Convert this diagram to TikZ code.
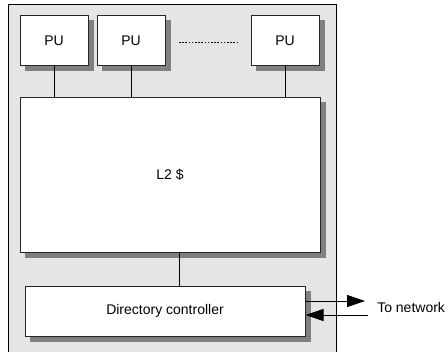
\documentclass[tikz,border=0pt]{standalone}
\usepackage{fontspec}
\setmainfont{Liberation Sans}
\usetikzlibrary{arrows.meta,backgrounds}

\tikzset{
  unit/.style={draw=black!85, line width=0.75pt, fill=white, inner sep=0pt,
    font=\fontsize{10.5}{12}\selectfont},
  shade/.style={fill=black!50},
  wire/.style={draw=black, line width=0.75pt},
  big/.style={-{Triangle[length=13.5pt, width=9pt]}, line width=0.75pt}
}

\begin{document}
\begin{tikzpicture}[x=0.75pt, y=-0.75pt]
			%%%%% START %%%%%
			\useasboundingbox (0, 0) rectangle (448, 351);
			
			\node[unit, minimum width=51pt, minimum height=37.5pt] (pu1) at (54, 40.5) {PU};
			\node[unit, minimum width=51pt, minimum height=37.5pt] (pu2) at (131, 40.5) {PU};
			\node[unit, minimum width=51pt, minimum height=37.5pt] (pun) at (285, 40.5) {PU};
			\draw[line width=0.75pt, dash pattern=on 1.2pt off 1.2pt] (179, 42) -- (237, 42);
			
			\node[unit, minimum width=225pt, minimum height=116.25pt] (l2) at (170, 174.5) {L2 \$};
			
			\node[unit, minimum width=210pt, minimum height=37.5pt] (dir) at (165, 311) {Directory controller};
			
			\begin{scope}[on background layer]
				\draw[fill=black!10, line width=0.75pt] (8, 4.7) rectangle (336.7, 353);
				\foreach \b in {pu1, pu2, pun, l2, dir}
					\fill[shade] ([shift={(3.75pt,-3.75pt)}]\b.south west) rectangle ([shift={(3.75pt,-3.75pt)}]\b.north east);
			\end{scope}
			
			\draw[wire] (pu1.south) -- (pu1.south |- l2.north);
			\draw[wire] (pu2.south) -- (pu2.south |- l2.north);
			\draw[wire] (pun.south) -- (pun.south |- l2.north);
			\draw[wire] ([xshift=6.75pt]l2.south) -- ([xshift=6.75pt]l2.south |- dir.north);
			
			\node[anchor=west, inner sep=0pt, font=\fontsize{10.5}{12}\selectfont] (net) at (377, 307.5) {To network};
			\coordinate (outtip) at (365, 301);
			\coordinate (inend) at (368, 315);
			\draw[big] ([yshift=7.5pt]dir.east) -- (outtip);
			\draw[big] (inend) -- (inend -| dir.east);
			
			%%%%% END %%%%%
\end{tikzpicture}
\end{document}
